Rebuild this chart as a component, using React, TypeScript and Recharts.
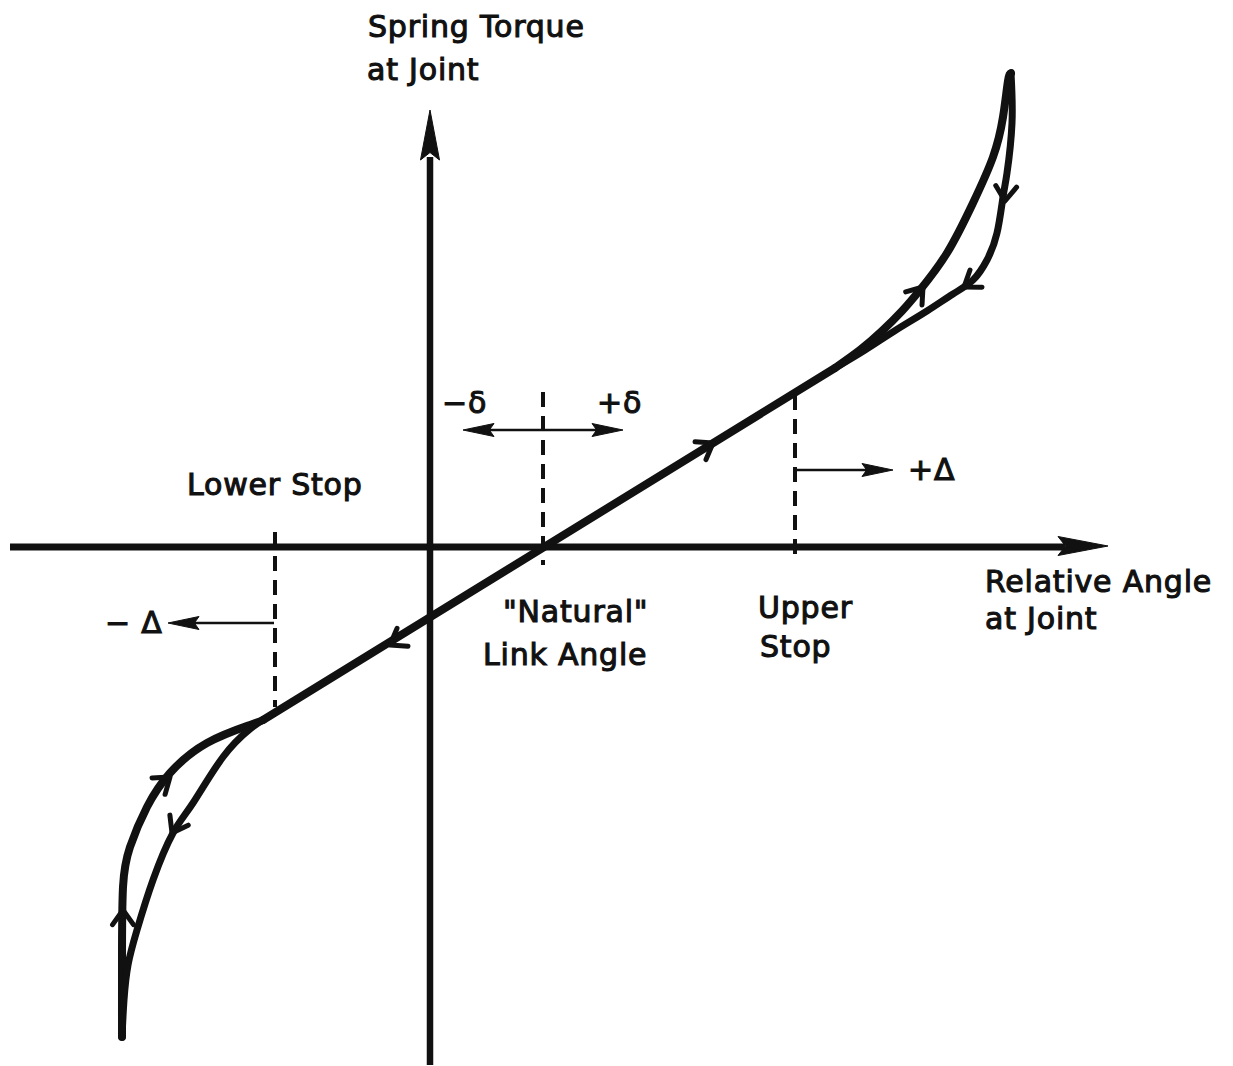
import React from 'react';
import { ComposedChart, XAxis, YAxis, Line, Scatter, ReferenceLine } from 'recharts';

// Coordinates: relative joint angle (x) vs spring torque (y), arbitrary units.
const mainLine = [
  { x: -16.7, y: -17.3 },
  { x: 40.5, y: 17.9 },
];

const upperLoading = [
  { x: 40.5, y: 17.9 },
  { x: 43.0, y: 19.7 },
  { x: 45.2, y: 21.6 },
  { x: 47.2, y: 23.6 },
  { x: 49.0, y: 25.7 },
  { x: 51.7, y: 29.4 },
  { x: 54.3, y: 34.4 },
  { x: 56.3, y: 39.0 },
  { x: 57.3, y: 43.0 },
  { x: 57.8, y: 46.6 },
  { x: 58.1, y: 47.4 },
];

const upperUnloading = [
  { x: 58.1, y: 47.4 },
  { x: 58.2, y: 42.4 },
  { x: 57.7, y: 37.4 },
  { x: 57.3, y: 35.0 },
  { x: 56.7, y: 31.4 },
  { x: 55.7, y: 28.7 },
  { x: 54.3, y: 26.7 },
  { x: 52.3, y: 25.3 },
  { x: 49.7, y: 23.6 },
  { x: 46.6, y: 21.7 },
  { x: 43.5, y: 19.7 },
  { x: 40.5, y: 17.9 },
];

const lowerLoading = [
  { x: -30.8, y: -49.0 },
  { x: -30.8, y: -41.3 },
  { x: -30.7, y: -34.0 },
  { x: -30.0, y: -30.0 },
  { x: -28.3, y: -26.0 },
  { x: -26.0, y: -22.6 },
  { x: -22.3, y: -19.6 },
  { x: -18.0, y: -17.8 },
  { x: -16.7, y: -17.3 },
];

const lowerUnloading = [
  { x: -16.7, y: -17.3 },
  { x: -18.0, y: -18.2 },
  { x: -20.7, y: -21.0 },
  { x: -23.7, y: -25.6 },
  { x: -25.7, y: -28.6 },
  { x: -27.7, y: -33.3 },
  { x: -29.3, y: -38.3 },
  { x: -30.2, y: -41.8 },
  { x: -30.6, y: -45.3 },
  { x: -30.8, y: -49.0 },
];

// Direction-of-travel markers on the curve (tip point and heading).
const flowArrows = [
  { x: 28.3, y: 10.4, dx: 1, dy: 0.616 },
  { x: -4.0, y: -9.8, dx: -1, dy: -0.616 },
  { x: 49.3, y: 26.0, dx: 0.8, dy: 1 },
  { x: 57.5, y: 34.6, dx: -0.08, dy: -1 },
  { x: 53.4, y: 26.0, dx: -1, dy: -0.7 },
  { x: -26.0, y: -23.0, dx: 1, dy: 0.8 },
  { x: -30.7, y: -36.3, dx: 0, dy: 1 },
  { x: -25.8, y: -28.6, dx: -0.55, dy: -1 },
];

const axisArrows = [
  { x: 0, y: 43.7, dx: 0, dy: 1 },
  { x: 67.8, y: 0.1, dx: 1, dy: 0 },
];

const pointerArrows = [
  { x: 3.3, y: 11.7, dx: -1, dy: 0 },
  { x: 19.3, y: 11.7, dx: 1, dy: 0 },
  { x: 46.3, y: 7.7, dx: 1, dy: 0 },
  { x: -26.2, y: -7.6, dx: -1, dy: 0 },
];

// Stop / natural-angle markers (x position, y extent)
const markerLines = [
  { x: 11.3, y1: 15.5, y2: -1.8 },
  { x: 36.5, y1: 15.2, y2: -1.5 },
  { x: -15.5, y1: 1.5, y2: -16.0 },
];

const pointerLines = [
  { x1: 4.5, x2: 18.0, y: 11.7 },
  { x1: 36.5, x2: 45.0, y: 7.7 },
  { x1: -15.6, x2: -25.0, y: -7.6 },
];

const labels = [
  { x: -6.2, y: 51.0, text: 'Spring Torque' },
  { x: -6.3, y: 46.7, text: 'at Joint' },
  { x: 1.2, y: 13.4, text: '−δ' },
  { x: 16.7, y: 13.4, text: '+δ' },
  { x: 47.8, y: 6.7, text: '+Δ' },
  { x: -24.3, y: 5.2, text: 'Lower Stop' },
  { x: -32.5, y: -8.6, text: '− Δ' },
  { x: 55.5, y: -4.5, text: 'Relative Angle' },
  { x: 55.5, y: -8.2, text: 'at Joint' },
  { x: 7.3, y: -7.5, text: '"Natural"' },
  { x: 5.3, y: -11.8, text: 'Link Angle' },
  { x: 32.8, y: -7.1, text: 'Upper' },
  { x: 33.0, y: -11.0, text: 'Stop' },
];

const X_DOMAIN: [number, number] = [-43, 80.3];
const Y_DOMAIN: [number, number] = [-51.9, 54.7];

const INK = '#111';

const heading = (p: any) => Math.atan2(-p.dy, p.dx);

const Chevron = (props: any) => {
  const { cx, cy, payload } = props;
  const a = heading(payload);
  const L = 18;
  const s = 0.62;
  const p1 = `${cx - L * Math.cos(a - s)},${cy - L * Math.sin(a - s)}`;
  const p2 = `${cx - L * Math.cos(a + s)},${cy - L * Math.sin(a + s)}`;
  return (
    <path
      d={`M${p1}L${cx},${cy}L${p2}`}
      stroke={INK}
      strokeWidth={5}
      fill="none"
      strokeLinecap="round"
      strokeLinejoin="round"
    />
  );
};

const makeTriangle = (len: number, half: number) => (props: any) => {
  const { cx, cy, payload } = props;
  const a = heading(payload);
  const ux = Math.cos(a);
  const uy = Math.sin(a);
  const bx = cx - len * ux;
  const by = cy - len * uy;
  const pts = [
    `${cx},${cy}`,
    `${bx - half * uy},${by + half * ux}`,
    `${bx + len * 0.15 * ux},${by + len * 0.15 * uy}`,
    `${bx + half * uy},${by - half * ux}`,
  ].join(' ');
  return <polygon points={pts} fill={INK} stroke={INK} strokeWidth={1} strokeLinejoin="round" />;
};

const AxisHead = makeTriangle(50, 9.5);
const PointerHead = makeTriangle(31, 6.5);

const Label = (props: any) => {
  const { cx, cy, payload } = props;
  return (
    <text
      x={cx}
      y={cy}
      fontFamily="'DejaVu Sans', sans-serif"
      fontSize={30}
      letterSpacing={0.8}
      fill={INK}
      stroke={INK}
      strokeWidth={1.1}
    >
      {payload.text}
    </text>
  );
};

export default function App() {
  return (
    <div style={{ position: 'absolute', left: 0, top: 0, width: 1233, height: 1066, background: '#fff' }}>
      <ComposedChart width={1233} height={1066} margin={{ top: 0, right: 0, bottom: 0, left: 0 }}>
        <XAxis type="number" dataKey="x" domain={X_DOMAIN} allowDataOverflow hide />
        <YAxis type="number" dataKey="y" domain={Y_DOMAIN} allowDataOverflow hide />

        {/* coordinate axes */}
        <ReferenceLine
          segment={[{ x: -42, y: 0 }, { x: 63.5, y: 0 }]}
          stroke={INK}
          strokeWidth={7}
        />
        <ReferenceLine
          segment={[{ x: 0, y: -51.8 }, { x: 0, y: 39 }]}
          stroke={INK}
          strokeWidth={6.5}
        />

        {/* dashed stop lines */}
        {markerLines.map((m, i) => (
          <ReferenceLine
            key={`m${i}`}
            segment={[{ x: m.x, y: m.y1 }, { x: m.x, y: m.y2 }]}
            stroke={INK}
            strokeWidth={4}
            strokeDasharray="15 9"
          />
        ))}

        {/* thin pointer arrows */}
        {pointerLines.map((p, i) => (
          <ReferenceLine
            key={`p${i}`}
            segment={[{ x: p.x1, y: p.y }, { x: p.x2, y: p.y }]}
            stroke={INK}
            strokeWidth={2.5}
          />
        ))}

        <Line data={mainLine} dataKey="y" type="linear" stroke={INK} strokeWidth={8} dot={false} isAnimationActive={false} strokeLinecap="round" />
        <Line data={upperLoading} dataKey="y" type="natural" stroke={INK} strokeWidth={8} dot={false} isAnimationActive={false} strokeLinecap="round" />
        <Line data={upperUnloading} dataKey="y" type="natural" stroke={INK} strokeWidth={7} dot={false} isAnimationActive={false} strokeLinecap="round" />
        <Line data={lowerLoading} dataKey="y" type="natural" stroke={INK} strokeWidth={8} dot={false} isAnimationActive={false} strokeLinecap="round" />
        <Line data={lowerUnloading} dataKey="y" type="natural" stroke={INK} strokeWidth={7} dot={false} isAnimationActive={false} strokeLinecap="round" />

        <Scatter data={flowArrows} shape={Chevron} isAnimationActive={false} />
        <Scatter data={axisArrows} shape={AxisHead} isAnimationActive={false} />
        <Scatter data={pointerArrows} shape={PointerHead} isAnimationActive={false} />
        <Scatter data={labels} shape={Label} isAnimationActive={false} />
      </ComposedChart>
    </div>
  );
}
